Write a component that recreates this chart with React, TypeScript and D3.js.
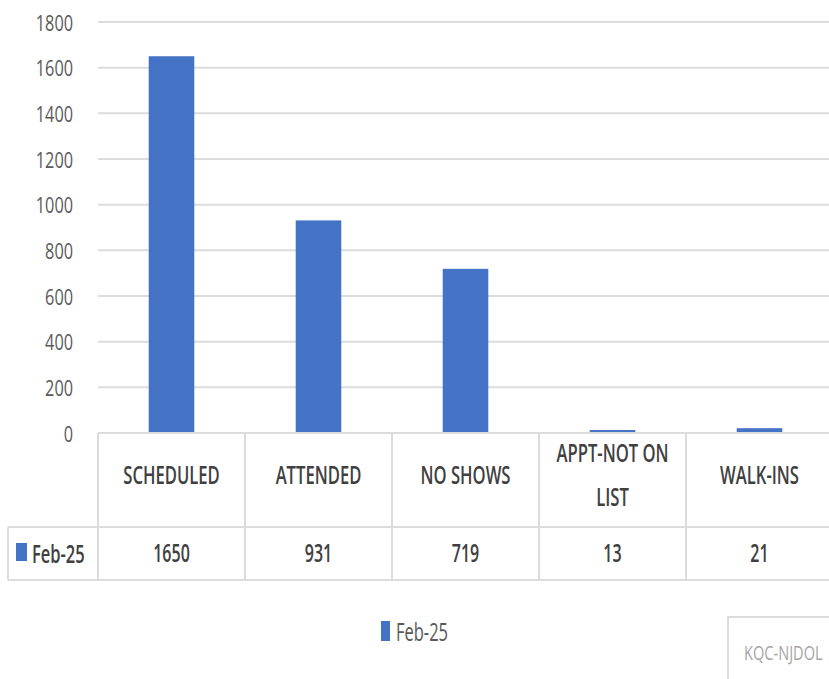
import React from "react";
import * as d3 from "d3";

// Appointment summary for February 2025
const categories = ["SCHEDULED", "ATTENDED", "NO SHOWS", "APPT-NOT ON LIST", "WALK-INS"];
const categoryLines = [["SCHEDULED"], ["ATTENDED"], ["NO SHOWS"], ["APPT-NOT ON", "LIST"], ["WALK-INS"]];
const seriesName = "Feb-25";
const values = [1650, 931, 719, 13, 21];
const yTicks = [0, 200, 400, 600, 800, 1000, 1200, 1400, 1600, 1800];
const footerTag = "KQC-NJDOL";

const W = 829;
const H = 679;
const BAR = "#4472C4";
const GRID = "#dcdcdc";
const FONT = "'Open Sans', sans-serif";

const plot = { left: 98, right: 833, top: 22, bottom: 433 };
const table = { headerBottom: 527, rowBottom: 580, legendLeft: 8 };

function Narrow({ x, y, size, sx, fill, anchor = "middle", weight = 400, children }: any) {
  return (
    <text
      transform={`translate(${x},${y}) scale(${sx},1)`}
      fontFamily={FONT}
      fontSize={size}
      fontWeight={weight}
      fill={fill}
      textAnchor={anchor}
      dominantBaseline="central"
    >
      {children}
    </text>
  );
}

export default function App() {
  const y = d3.scaleLinear().domain([0, 1800]).range([plot.bottom, plot.top]);
  const x = d3.scaleBand<string>().domain(categories).range([plot.left, plot.right]).padding(0);
  const barW = x.bandwidth() * 0.31;

  return (
    <div style={{ position: "absolute", left: 0, top: 0 }}>
      <svg width={W} height={H} style={{ display: "block", background: "#fff" }}>
        {/* gridlines and y tick labels */}
        {yTicks.map((t) => (
          <g key={t}>
            {t > 0 && (
              <line x1={plot.left} x2={W} y1={y(t)} y2={y(t)} stroke={GRID} strokeWidth={2} />
            )}
            <Narrow x={73} y={y(t)} size={22} sx={0.74} fill="#595959" anchor="end">
              {t}
            </Narrow>
          </g>
        ))}

        {/* bars */}
        {categories.map((c, i) => (
          <rect
            key={c}
            x={(x(c) as number) + x.bandwidth() / 2 - barW / 2}
            y={y(values[i])}
            width={barW}
            height={plot.bottom - y(values[i])}
            fill={BAR}
          />
        ))}

        {/* data table grid */}
        <line x1={plot.left} x2={W} y1={plot.bottom} y2={plot.bottom} stroke={GRID} strokeWidth={2} />
        <line x1={table.legendLeft} x2={W} y1={table.headerBottom} y2={table.headerBottom} stroke={GRID} strokeWidth={2} />
        <line x1={table.legendLeft} x2={W} y1={table.rowBottom} y2={table.rowBottom} stroke={GRID} strokeWidth={2} />
        <line x1={table.legendLeft} x2={table.legendLeft} y1={table.headerBottom} y2={table.rowBottom} stroke={GRID} strokeWidth={2} />
        {categories.map((c) => (
          <line
            key={c}
            x1={x(c) as number}
            x2={x(c) as number}
            y1={plot.bottom}
            y2={table.rowBottom}
            stroke={GRID}
            strokeWidth={2}
          />
        ))}

        {/* category headers */}
        {categories.map((c, i) => {
          const lines = categoryLines[i];
          const cx = (x(c) as number) + x.bandwidth() / 2;
          const mid = (plot.bottom + table.headerBottom) / 2 - 6;
          const gap = 44;
          return lines.map((ln, j) => (
            <Narrow
              key={c + j}
              x={cx}
              y={mid + (j - (lines.length - 1) / 2) * gap}
              size={26}
              sx={0.64}
              weight={600}
              fill="#404040"
            >
              {ln}
            </Narrow>
          ));
        })}

        {/* value row */}
        <rect x={16} y={543} width={11} height={18} fill={BAR} />
        <Narrow x={32} y={(table.headerBottom + table.rowBottom) / 2 - 1} size={25} sx={0.66} weight={600} fill="#404040" anchor="start">
          {seriesName}
        </Narrow>
        {categories.map((c, i) => (
          <Narrow
            key={c}
            x={(x(c) as number) + x.bandwidth() / 2}
            y={(table.headerBottom + table.rowBottom) / 2 - 1}
            size={25}
            sx={0.64}
            weight={600}
            fill="#404040"
          >
            {values[i]}
          </Narrow>
        ))}

        {/* legend */}
        <rect x={381} y={621} width={9} height={20} fill={BAR} />
        <Narrow x={396} y={631} size={25} sx={0.66} fill="#595959" anchor="start">
          {seriesName}
        </Narrow>

        {/* footer tag box */}
        <rect x={728} y={617} width={120} height={80} fill="#fff" stroke={GRID} strokeWidth={2} />
        <Narrow x={744} y={652} size={20} sx={0.73} fill="#a6a6a6" anchor="start">
          {footerTag}
        </Narrow>
      </svg>
    </div>
  );
}
